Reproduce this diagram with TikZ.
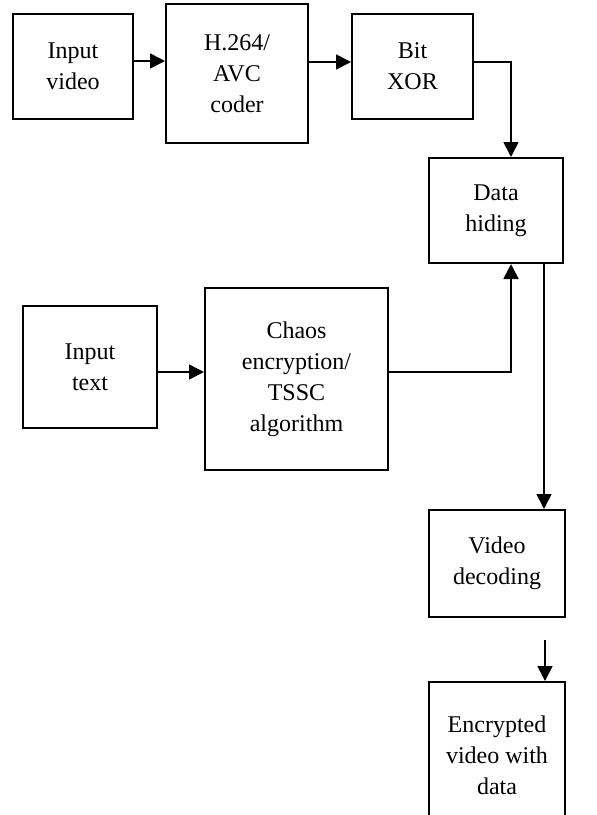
\documentclass[tikz,border=0pt]{standalone}
\usepackage{fontspec}
\setmainfont{Liberation Serif}
\usetikzlibrary{arrows.meta}
\begin{document}
\begin{tikzpicture}[x=1pt,y=-1pt,
  blk/.style={draw,line width=2pt,align=center,font=\fontsize{24}{31}\selectfont,inner sep=0pt},
  con/.style={line width=1.7pt,-{Triangle[length=15pt,width=15pt]}}]
\useasboundingbox (0,0) rectangle (597,815);
\clip (0,0) rectangle (597,815);
\node[blk,minimum width=120pt,minimum height=105pt] (vid) at (73,66.5) {Input\\video};
\node[blk,minimum width=142pt,minimum height=139pt] (h264) at (237,73.5) {H.264/\\AVC\\coder};
\node[blk,minimum width=121pt,minimum height=105pt] (xor) at (412.5,66.5) {Bit\\XOR};
\node[blk,minimum width=134pt,minimum height=105pt] (hide) at (496,210.5) {Data\\hiding};
\node[blk,minimum width=134pt,minimum height=122pt] (txt) at (90,367) {Input\\text};
\node[blk,minimum width=183pt,minimum height=182pt] (chaos) at (296.5,379) {Chaos\\encryption/\\TSSC\\algorithm};
\node[blk,minimum width=136pt,minimum height=107pt] (vdec) at (497,563.5) {Video\\decoding};
\node[blk,minimum width=136pt,minimum height=146pt] (enc) at (497,755) {Encrypted\\video with\\data};
\coordinate (a1) at ([yshift=5.5pt]vid.east);
\draw[con] (a1) -- (a1 -| h264.west);
\coordinate (a2) at ([yshift=11.5pt]h264.east);
\draw[con] (a2) -- (a2 -| xor.west);
\draw[con] ([yshift=4.5pt]xor.east) -| ([xshift=15pt]hide.north);
\coordinate (a3) at ([yshift=-5pt]txt.east);
\draw[con] (a3) -- (a3 -| chaos.west);
\draw[con] ([yshift=7pt]chaos.east) -| ([xshift=15pt]hide.south);
\coordinate (a4) at ([xshift=48pt]hide.south);
\draw[con] (a4) -- (a4 |- vdec.north);
\coordinate (a5) at (545,640);
\draw[con] (a5) -- (a5 |- enc.north);
\end{tikzpicture}
\end{document}
